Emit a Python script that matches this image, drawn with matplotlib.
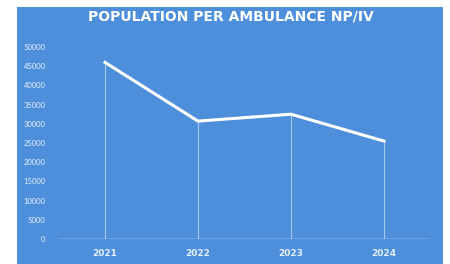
import matplotlib
matplotlib.use("Agg")
import matplotlib.pyplot as plt
from matplotlib.patches import Rectangle

years = ['2021', '2022', '2023', '2024']
population = [46000, 30700, 32500, 25500]
y_ticks = [0, 5000, 10000, 15000, 20000, 25000, 30000, 35000, 40000, 45000, 50000]

bg_blue = '#4d8fdb'

fig = plt.figure(figsize=(4.5, 2.64), dpi=100)
fig.patch.set_facecolor('white')
# blue panel behind the chart
fig.patches.append(Rectangle((17 / 450, 0), 426 / 450, 257 / 264,
                             transform=fig.transFigure, facecolor=bg_blue,
                             edgecolor='none', zorder=-5))

ax = fig.add_axes([58 / 450, 25 / 264, 372 / 450, 192 / 264])
ax.set_facecolor('none')

x = list(range(len(years)))
# thin drop lines from each point to the baseline
ax.vlines(x, 0, population, color='white', linewidth=0.8, alpha=0.5)
ax.plot(x, population, color='white', linewidth=2.2, solid_joinstyle='miter',
        clip_on=False, zorder=3)
ax.axhline(0, color='white', linewidth=1.0, alpha=0.85)

ax.set_xlim(-0.505, 3.495)
ax.set_ylim(0, 50000)
ax.set_xticks(x)
ax.set_xticklabels(years, fontsize=6.5, fontweight='bold', color='#e8f0fb',
                   family='DejaVu Sans')
ax.set_yticks(y_ticks)
ax.set_yticklabels([str(v) for v in y_ticks], fontsize=5.5, color='#e8f0fb',
                   family='Lato')
ax.tick_params(length=0, axis='x', pad=7)
ax.tick_params(length=0, axis='y', pad=9)
for s in ax.spines.values():
    s.set_visible(False)

fig.text(231 / 450, 1 - 17 / 264, 'POPULATION PER AMBULANCE NP/IV',
         ha='center', va='center', fontsize=10, fontweight='bold',
         color='white', family='DejaVu Sans')

fig.savefig('out.png', dpi=100)
